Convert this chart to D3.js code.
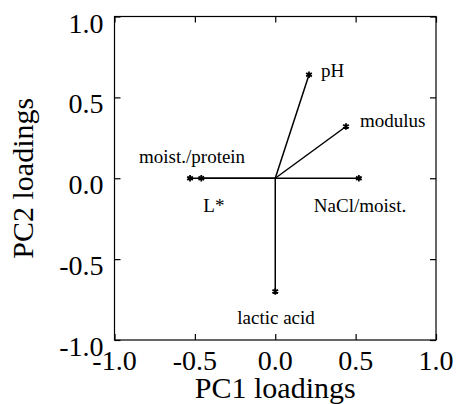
<!DOCTYPE html>
<html>
<head>
<meta charset="utf-8">
<script src="https://cdn.jsdelivr.net/npm/d3@7/dist/d3.min.js"></script>
<style>
  html, body { margin: 0; padding: 0; background: #fff; }
  svg { display: block; }
</style>
</head>
<body>
<svg id="chart" width="456" height="404"></svg>
<script>
// ---- data ----
const variables = ["pH", "modulus", "NaCl/moist.", "moist./protein", "L*", "lactic acid"];
const pc1 = [0.21, 0.44, 0.52, -0.53, -0.46, 0.00];
const pc2 = [0.64, 0.32, 0.00, 0.00, 0.00, -0.70];
const tickValues = [-1.0, -0.5, 0.0, 0.5, 1.0];
const tickLabels = ["-1.0", "-0.5", "0.0", "0.5", "1.0"];
const xTitle = "PC1 loadings";
const yTitle = "PC2 loadings";

// label offsets (pixels, relative to point)
const labelDx = [12, 14, -45, -51, 2, -38];
const labelDy = [2, 1, 34, -15, 34, 33];

(function () {
// ---- layout ----
const svg = d3.select("#chart");
const mLeft = 114.5, mRight = 436, mTop = 16.5, mBottom = 340;
const x = d3.scaleLinear().domain([-1, 1]).range([mLeft, mRight]);
const y = d3.scaleLinear().domain([-1, 1]).range([mBottom, mTop]);
const font = "'Liberation Serif', 'Times New Roman', serif";

// frame
svg.append("rect")
  .attr("x", mLeft).attr("y", mTop)
  .attr("width", mRight - mLeft).attr("height", mBottom - mTop)
  .attr("fill", "none").attr("stroke", "#000").attr("stroke-width", 1.2);

// inward ticks on all four sides
const tickLen = 6;
const axB = d3.axisTop(x).tickValues(tickValues).tickSize(tickLen).tickFormat("");
const axT = d3.axisBottom(x).tickValues(tickValues).tickSize(tickLen).tickFormat("");
const axL = d3.axisRight(y).tickValues(tickValues).tickSize(tickLen).tickFormat("");
const axR = d3.axisLeft(y).tickValues(tickValues).tickSize(tickLen).tickFormat("");
[[axB, `translate(0,${mBottom})`], [axT, `translate(0,${mTop})`],
 [axL, `translate(${mLeft},0)`], [axR, `translate(${mRight},0)`]].forEach(([ax, tr]) => {
  const g = svg.append("g").attr("transform", tr).call(ax);
  g.select(".domain").remove();
  g.selectAll("line").attr("stroke", "#000").attr("stroke-width", 1.2);
});

// tick labels
svg.append("g").selectAll("text").data(tickValues).join("text")
  .attr("x", d => x(d)).attr("y", mBottom + 30)
  .attr("text-anchor", "middle")
  .attr("font-family", font).attr("font-size", 28).attr("fill", "#000")
  .text((d, i) => tickLabels[i]);
svg.append("g").selectAll("text").data(tickValues).join("text")
  .attr("x", mLeft - 11).attr("y", d => y(d) + 16)
  .attr("text-anchor", "end")
  .attr("font-family", font).attr("font-size", 28).attr("fill", "#000")
  .text((d, i) => tickLabels[i]);

// axis titles
svg.append("text")
  .attr("x", (mLeft + mRight) / 2).attr("y", 398)
  .attr("text-anchor", "middle")
  .attr("font-family", font).attr("font-size", 30).attr("fill", "#000")
  .text(xTitle);
svg.append("text")
  .attr("transform", `translate(33,${(mTop + mBottom) / 2}) rotate(-90)`)
  .attr("text-anchor", "middle")
  .attr("font-family", font).attr("font-size", 30).attr("fill", "#000")
  .text(yTitle);

// vectors
const pts = variables.map((v, i) => ({ name: v, px: pc1[i], py: pc2[i], dx: labelDx[i], dy: labelDy[i] }));
svg.append("g").selectAll("line").data(pts).join("line")
  .attr("x1", x(0)).attr("y1", y(0))
  .attr("x2", d => x(d.px)).attr("y2", d => y(d.py))
  .attr("stroke", "#000").attr("stroke-width", 1.5);

// star markers
const sym = d3.symbol().type(d3.symbolAsterisk).size(30);
svg.append("g").selectAll("path").data(pts).join("path")
  .attr("transform", d => `translate(${x(d.px)},${y(d.py)})`)
  .attr("d", sym)
  .attr("fill", "none").attr("stroke", "#000").attr("stroke-width", 1.8);

// labels
svg.append("g").selectAll("text").data(pts).join("text")
  .attr("x", d => x(d.px) + d.dx).attr("y", d => y(d.py) + d.dy)
  .attr("font-family", font).attr("font-size", 19).attr("fill", "#000")
  .text(d => d.name);
})();
</script>
</body>
</html>
